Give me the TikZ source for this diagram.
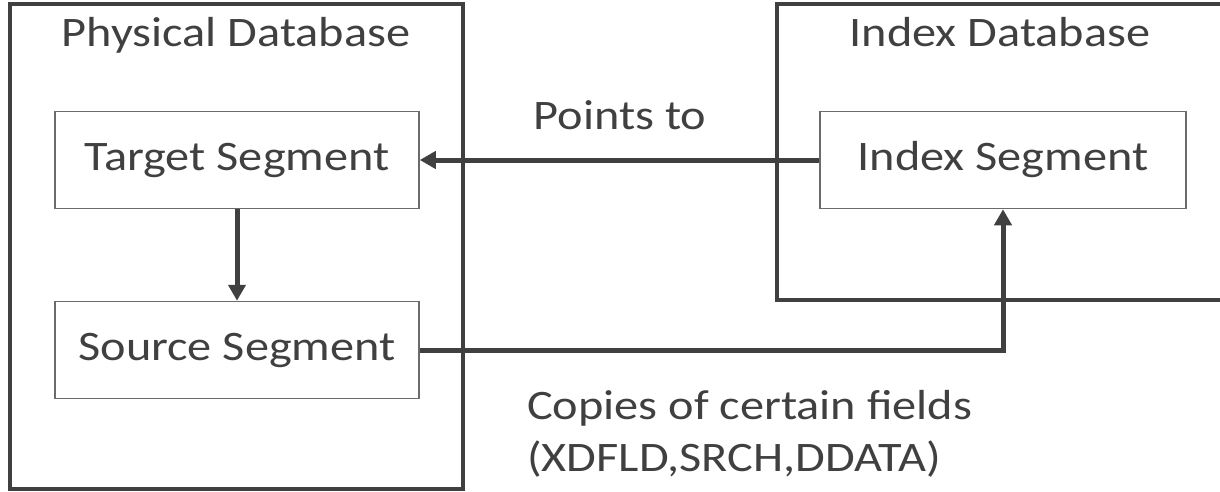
\documentclass[tikz,border=0pt]{standalone}
\usepackage{fontspec}
\setmainfont{Carlito}[FakeStretch=1.15]
\usepackage{xcolor}
\definecolor{inkgray}{HTML}{404040}
\definecolor{linegray}{HTML}{6B6B6B}
\usetikzlibrary{arrows.meta, positioning}

\tikzset{
    dbframe/.style={draw=inkgray, line width=4pt},
    segbox/.style={draw=linegray, line width=1.5pt, minimum width=364pt, minimum height=97pt, inner sep=0pt},
    linktext/.style={text=inkgray, font=\fontsize{42}{48}\selectfont},
    link/.style={draw=inkgray, line width=5pt, -{Triangle[length=16pt, width=17pt]}}
}

\begin{document}
\begin{tikzpicture}[x=1pt, y=-1pt]
    \useasboundingbox (0,0) rectangle (1220,492);
    % database frames
    \draw[dbframe] (10,4) rectangle (463,489);
    \draw[dbframe] (777,4) rectangle (1240,300);
    \node[linktext, anchor=base] (phystitle) at (236,47) {Physical Database};
    \node[linktext, anchor=base] (idxtitle) at (1000,47) {Index Database};
    % segments
    \node[segbox, linktext] (target) at (237,160) {Target Segment};
    \node[segbox, linktext] (source) at (237,350) {Source Segment};
    \node[segbox, linktext, minimum width=366pt] (index) at (1003,160) {Index Segment};
    % connectors
    \draw[link] (index.west) -- (target.east);
    \draw[link] (target.south) -- (source.north);
    \draw[link] (source.east) -| (index.south);
    \node[linktext, anchor=base] (pointsto) at (620,129) {Points to};
    \node[linktext, anchor=base west, inner sep=0pt] (copies) at (527,419) {Copies of certain fields};
    \node[linktext, anchor=base west, inner sep=0pt] (fields) at (527,471) {(XDFLD,SRCH,DDATA)};
\end{tikzpicture}
\end{document}
